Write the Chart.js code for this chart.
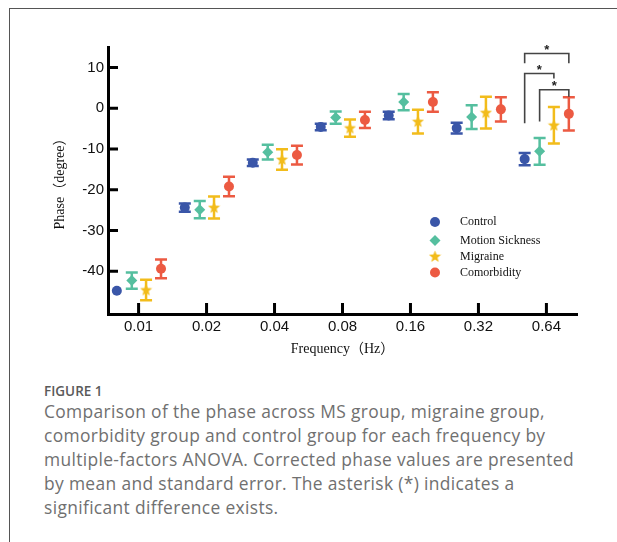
<!DOCTYPE html>
<html>
<head>
<meta charset="utf-8">
<script src="https://cdn.jsdelivr.net/npm/chart.js@4.4.0/dist/chart.umd.min.js"></script>
<style>
  html, body { margin: 0; padding: 0; background: #fff; }
  #frame { position: absolute; left: 9px; top: 8px; right: 0; bottom: 0; border-top: 1px solid #555; border-left: 1px solid #555; }
  #wrap { position: absolute; left: 0; top: 0; width: 617px; height: 370px; }
  #fig { position: absolute; left: 44px; top: 382px; font-family: "Open Sans", sans-serif; font-weight: 600; font-size: 13.5px; color: #5a5a5a; }
  #cap { position: absolute; left: 44px; top: 399px; font-family: "Open Sans", sans-serif; font-size: 17.4px; letter-spacing: 0.35px; line-height: 24px; color: #707070; white-space: nowrap; }
</style>
</head>
<body>
<div id="frame"></div>
<div id="wrap"><canvas id="phase"></canvas></div>
<div id="fig">FIGURE 1</div>
<div id="cap">Comparison of the phase across MS group, migraine group,<br>comorbidity group and control group for each frequency by<br>multiple-factors ANOVA. Corrected phase values are presented<br>by mean and standard error. The asterisk (*) indicates a<br>significant difference exists.</div>
<script>
// frequencies (Hz) on the x axis
const freqLabels = ["0.01", "0.02", "0.04", "0.08", "0.16", "0.32", "0.64"];
const groups = ["Control", "Motion Sickness", "Migraine", "Comorbidity"];

// phase mean and standard error (degree), one value per frequency
const controlMean = [-44.8, -24.4, -13.4, -4.6, -1.8, -4.9, -12.5];
const controlSE = [0, 1.0, 0.8, 0.8, 0.9, 1.3, 1.5];
const msMean = [-42.3, -24.9, -10.8, -2.3, 1.5, -2.2, -10.6];
const msSE = [2.0, 2.1, 1.8, 1.5, 2.0, 2.9, 3.3];
const migraineMean = [-44.6, -24.4, -12.6, -4.9, -3.3, -1.1, -4.2];
const migraineSE = [2.5, 2.7, 2.5, 2.1, 2.9, 3.9, 4.5];
const comorbMean = [-39.4, -19.2, -11.5, -2.9, 1.5, -0.3, -1.4];
const comorbSE = [2.3, 2.4, 2.3, 2.0, 2.4, 3.0, 4.1];

const yTicks = [-40, -30, -20, -10, 0, 10];

// significance brackets at 0.64 Hz (group index pairs, level and leg ends in degree)
const sigFreq = 6;
const sigFrom = [0, 0, 1];
const sigTo = [3, 2, 3];
const sigLevel = [13.4, 8.5, 4.5];
const sigFromEnd = [11.0, -3.7, -3.3];
const sigToEnd = [11.0, 7.3, 2.8];

const colors = ["#3A56A8", "#55BF9F", "#F2BC1B", "#EC5A42"];
const offsets = [-0.32, -0.1, 0.11, 0.33];
const means = [controlMean, msMean, migraineMean, comorbMean];
const errors = [controlSE, msSE, migraineSE, comorbSE];

// small filled star for the migraine group
const starImg = document.createElement("canvas");
starImg.width = 13;
starImg.height = 13;
(function () {
  const c = starImg.getContext("2d");
  c.fillStyle = colors[2];
  c.beginPath();
  for (let k = 0; k < 10; k++) {
    const r = k % 2 === 0 ? 6.3 : 2.7;
    const a = -Math.PI / 2 + k * Math.PI / 5;
    const px = 6.5 + r * Math.cos(a), py = 6.8 + r * Math.sin(a);
    k === 0 ? c.moveTo(px, py) : c.lineTo(px, py);
  }
  c.closePath();
  c.fill();
})();
const styles = ["circle", "rectRot", starImg, "circle"];
const radii = [5, 5.5, 6, 5];

const datasets = groups.map((g, i) => ({
  label: g,
  data: means[i].map((v, j) => ({ x: j + offsets[i], y: v })),
  backgroundColor: colors[i],
  borderColor: colors[i],
  borderWidth: 0,
  pointStyle: styles[i],
  pointRadius: radii[i],
  se: errors[i],
}));

const errorBars = {
  id: "errorBars",
  beforeDatasetsDraw(chart) {
    const { ctx, scales: { x, y } } = chart;
    ctx.save();
    ctx.lineWidth = 2.5;
    chart.data.datasets.forEach((ds) => {
      ctx.strokeStyle = ds.borderColor;
      ds.data.forEach((p, j) => {
        if (!ds.se[j]) return;
        const px = x.getPixelForValue(p.x);
        const top = y.getPixelForValue(p.y + ds.se[j]);
        const bot = y.getPixelForValue(p.y - ds.se[j]);
        ctx.beginPath();
        ctx.moveTo(px, top); ctx.lineTo(px, bot);
        ctx.moveTo(px - 6, top); ctx.lineTo(px + 6, top);
        ctx.moveTo(px - 6, bot); ctx.lineTo(px + 6, bot);
        ctx.stroke();
      });
    });
    ctx.restore();
  },
};

// ticks pointing into the plot
const innerTicks = {
  id: "innerTicks",
  beforeDatasetsDraw(chart) {
    const { ctx, chartArea: a, scales: { x, y } } = chart;
    ctx.save();
    ctx.strokeStyle = "#000";
    ctx.lineWidth = 3;
    ctx.beginPath();
    yTicks.forEach((t) => {
      const py = y.getPixelForValue(t);
      ctx.moveTo(a.left, py); ctx.lineTo(a.left + 10, py);
    });
    freqLabels.forEach((f, i) => {
      const px = x.getPixelForValue(i);
      ctx.moveTo(px, a.bottom); ctx.lineTo(px, a.bottom - 11);
    });
    ctx.stroke();
    ctx.restore();
  },
};

const sigBrackets = {
  id: "sigBrackets",
  afterDatasetsDraw(chart) {
    const { ctx, scales: { x, y } } = chart;
    ctx.save();
    ctx.strokeStyle = "#444";
    ctx.fillStyle = "#222";
    ctx.lineWidth = 1.6;
    ctx.font = "bold 13px 'Liberation Sans'";
    ctx.textAlign = "center";
    ctx.textBaseline = "middle";
    sigLevel.forEach((lv, k) => {
      const x1 = x.getPixelForValue(sigFreq + offsets[sigFrom[k]]);
      const x2 = x.getPixelForValue(sigFreq + offsets[sigTo[k]]);
      const yl = y.getPixelForValue(lv);
      ctx.beginPath();
      ctx.moveTo(x1, y.getPixelForValue(sigFromEnd[k]));
      ctx.lineTo(x1, yl);
      ctx.lineTo(x2, yl);
      ctx.lineTo(x2, y.getPixelForValue(sigToEnd[k]));
      ctx.stroke();
      ctx.fillText("*", (x1 + x2) / 2, yl - 3);
    });
    ctx.restore();
  },
};

const groupLegend = {
  id: "groupLegend",
  afterDraw(chart) {
    const { ctx, chartArea: a } = chart;
    const rows = [175, 193.5, 209.5, 225.5];
    ctx.save();
    ctx.font = "12px 'Liberation Serif'";
    ctx.textBaseline = "middle";
    ctx.textAlign = "left";
    chart.data.datasets.forEach((ds, i) => {
      const py = a.top + rows[i];
      ctx.fillStyle = ds.backgroundColor;
      Chart.helpers.drawPoint(ctx, { pointStyle: ds.pointStyle, radius: ds.pointRadius, borderWidth: 0, rotation: 0 }, a.left + 327, py);
      ctx.fillStyle = "#111";
      ctx.fillText(ds.label, a.left + 352, py);
    });
    ctx.restore();
  },
};

new Chart(document.getElementById("phase"), {
  type: "scatter",
  data: { datasets },
  plugins: [innerTicks, errorBars, sigBrackets, groupLegend],
  options: {
    responsive: true,
    maintainAspectRatio: false,
    animation: false,
    layout: { padding: { top: 47, right: 40, left: 0, bottom: 0 } },
    plugins: { legend: { display: false }, tooltip: { enabled: false } },
    scales: {
      x: {
        type: "linear",
        min: -0.45,
        max: 6.45,
        afterBuildTicks: (s) => { s.ticks = freqLabels.map((f, i) => ({ value: i })); },
        afterFit: (s) => { s.height = 56; },
        grid: { display: false, drawTicks: false },
        border: { display: true, width: 3, color: "#000" },
        ticks: {
          padding: 4,
          color: "#111",
          font: { family: "'Liberation Sans', Arial", size: 15 },
          callback: (v) => freqLabels[Math.round(v)],
        },
        title: {
          display: true,
          text: "Frequency（Hz）",
          color: "#111",
          font: { family: "'Liberation Serif', 'Noto Sans CJK SC'", size: 14 },
          padding: { top: 0, bottom: 12.6 },
        },
      },
      y: {
        min: -50.5,
        max: 15,
        afterBuildTicks: (s) => { s.ticks = yTicks.map((v) => ({ value: v })); },
        afterFit: (s) => { s.width = 108; },
        grid: { display: false, drawTicks: false },
        border: { display: true, width: 3, color: "#000" },
        ticks: {
          padding: 4,
          color: "#111",
          font: { family: "'Liberation Sans', Arial", size: 15 },
        },
        title: {
          display: true,
          text: "Phase（degree）",
          color: "#111",
          font: { family: "'Liberation Serif', 'Noto Sans CJK SC'", size: 14 },
          padding: { top: 51.6, bottom: 0 },
        },
      },
    },
  },
});
</script>
</body>
</html>
